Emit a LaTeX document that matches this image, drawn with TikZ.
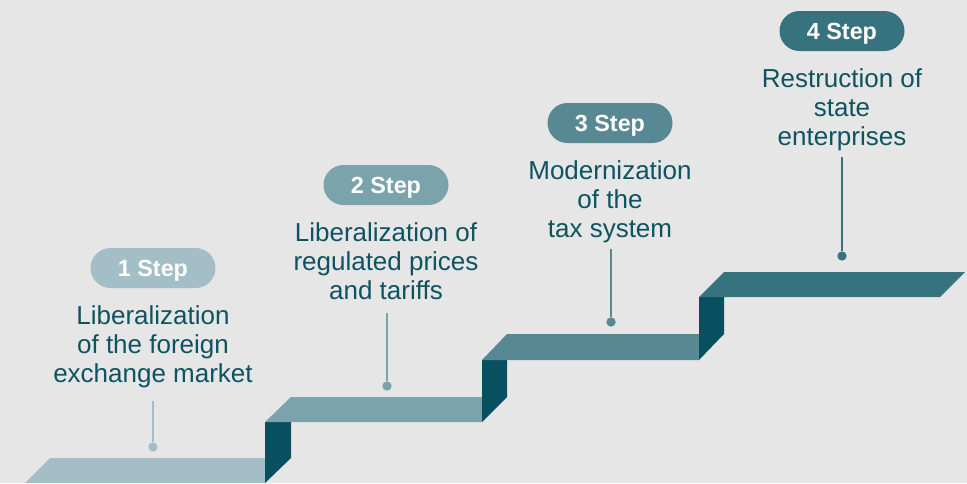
\documentclass[tikz,border=0pt]{standalone}
\usepackage{fontspec}
\setmainfont{Liberation Sans}
\usetikzlibrary{positioning}

\definecolor{bggrey}{HTML}{E6E6E6}
\definecolor{stepone}{HTML}{A3BEC6}
\definecolor{steptwo}{HTML}{7BA3AB}
\definecolor{stepthree}{HTML}{588893}
\definecolor{stepfour}{HTML}{37737F}
\definecolor{riser}{HTML}{08505F}
\definecolor{textteal}{HTML}{0D5361}

\tikzset{
  badge/.style={fill=#1, rounded corners=15pt, minimum width=93.75pt, minimum height=30pt,
    inner sep=0pt, text height=12.4pt, text depth=0pt, text=white,
    font=\bfseries\fontsize{17.5}{17.5}\selectfont},
  caption/.style={align=center, text=textteal, inner sep=0pt,
    font=\fontsize{19.5}{21.75}\selectfont},
  pindot/.style={fill=#1, circle, minimum size=7pt, inner sep=0pt},
  pinline/.style={draw=#1, line width=1.6pt},
}

\begin{document}
\begin{tikzpicture}[x=0.75pt,y=-0.75pt]
  \fill[bggrey] (0,0) rectangle (967,483);
  \useasboundingbox (0,0) rectangle (967,483);

  %% stairs
  \fill[stepone] (25,483) -- (50,458) -- (265,458) -- (265,483) -- cycle;
  \fill[riser] (265,422) -- (291,422) -- (291,458) -- (265,483) -- cycle;

  \fill[steptwo] (265,422) -- (291,397) -- (482,397) -- (482,422) -- cycle;
  \fill[riser] (482,360) -- (507,360) -- (507,397) -- (482,422) -- cycle;

  \fill[stepthree] (482,360) -- (507,334) -- (699,334) -- (699,360) -- cycle;
  \fill[riser] (699,297) -- (724,297) -- (724,334) -- (699,360) -- cycle;

  \fill[stepfour] (699,297) -- (724,272) -- (965,272) -- (940,297) -- cycle;

  %% step 1
  \node[badge=stepone] (badge1) at (153,268) {1 Step};
  \node[caption, below=13pt of badge1] (cap1) {Liberalization\\of the foreign\\exchange market};
  \node[pindot=stepone] (dot1) at (153,447) {};
  \coordinate (top1) at (153,401);
  \draw[pinline=stepone] (top1) -- (dot1);

  %% step 2
  \node[badge=steptwo] (badge2) at (386,185) {2 Step};
  \node[caption, below=13pt of badge2] (cap2) {Liberalization of\\regulated prices\\and tariffs};
  \node[pindot=steptwo] (dot2) at (387,386) {};
  \coordinate (top2) at (387,313);
  \draw[pinline=steptwo] (top2) -- (dot2);

  %% step 3
  \node[badge=stepthree] (badge3) at (610,123) {3 Step};
  \node[caption, below=13pt of badge3] (cap3) {Modernization\\of the\\tax system};
  \node[pindot=stepthree] (dot3) at (611,322) {};
  \coordinate (top3) at (611,249);
  \draw[pinline=stepthree] (top3) -- (dot3);

  %% step 4
  \node[badge=stepfour] (badge4) at (842,31) {4 Step};
  \node[caption, below=13pt of badge4] (cap4) {Restruction of\\state\\enterprises};
  \node[pindot=stepfour] (dot4) at (842,256) {};
  \coordinate (top4) at (842,157);
  \draw[pinline=stepfour] (top4) -- (dot4);

\end{tikzpicture}
\end{document}
